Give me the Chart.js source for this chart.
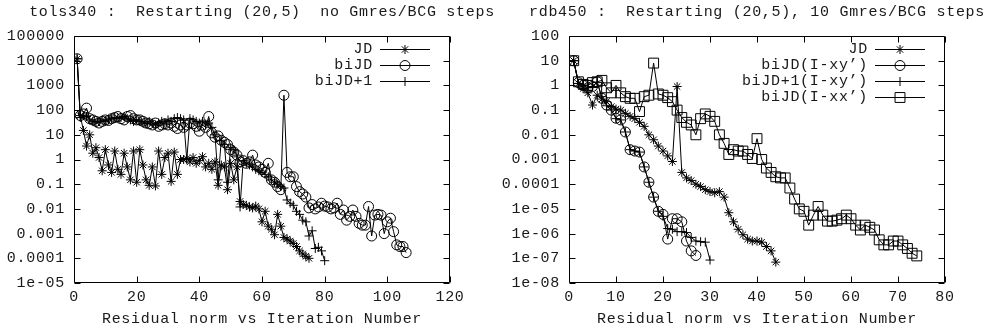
<!DOCTYPE html>
<html><head><meta charset="utf-8">
<script src="https://cdn.jsdelivr.net/npm/chart.js@4.4.0/dist/chart.umd.min.js"></script>
<style>
html,body{margin:0;padding:0;background:#fff;}
#wrap{position:relative;width:987px;height:331px;overflow:hidden;background:#fff;}
canvas{position:absolute;top:0;}
#c1{left:0;} #c2{left:493px;}
</style></head><body>
<div id="wrap"><canvas id="c1" width="493" height="331"></canvas><canvas id="c2" width="494" height="331"></canvas></div>
<script>
// ---------- Left chart data (tols340) ----------
const leftTitle = "tols340 :  Restarting (20,5)  no Gmres/BCG steps";
const xAxisTitle = "Residual norm vs Iteration Number";
const leftYTickValues = [1e-5, 1e-4, 1e-3, 1e-2, 1e-1, 1, 10, 100, 1000, 10000, 100000];
const leftYTickLabels = ["1e-05", "0.0001", "0.001", "0.01", "0.1", "1", "10", "100", "1000", "10000", "100000"];
const leftLabels = ["JD", "biJD", "biJD+1"];
// iterations start at 1
const leftJD = [1.2e4, 60, 15, 3.5, 10, 1.8, 3, 1.2, 0.35, 2.5,
  0.6, 0.3, 2.2, 0.4, 0.25, 1.8, 0.5, 0.15, 2.2, 0.12,
  2.5, 0.6, 0.15, 0.09, 0.5, 0.085, 2.2, 0.25, 1.2, 1.8,
  0.13, 2, 0.25, 1.0, 1.0, 1.1, 0.8, 1.2, 0.7, 0.9,
  1.3, 0.5, 0.7, 0.4, 0.8, 0.09, 0.6, 0.5, 0.06, 0.7,
  0.15, 0.5, 0.02, 0.015, 0.014, 0.012, 0.011, 0.013, 0.01, 0.003,
  0.008, 0.002, 0.0015, 0.0009, 0.006, 0.002, 0.0007, 0.0006, 0.0005, 0.0004,
  0.0003, 0.0002, 0.00015, 0.00012, 0.0001];
const leftBiJD = [1.2e4, 60, 70, 120, 45, 40, 35, 30, 35, 40,
  38, 45, 50, 55, 45, 40, 55, 60, 45, 40,
  40, 35, 30, 28, 25, 30, 22, 25, 28, 25,
  30, 22, 18, 25, 20, 25, 30, 28, 22, 14,
  25, 20, 55, 12, 8, 9, 6, 5, 4, 2.5,
  2, 1.5, 0.8, 0.9, 0.7, 0.8, 1.5, 0.6, 0.5, 0.4,
  0.3, 0.7, 0.15, 0.12, 0.08, 0.06, 400, 0.3, 0.2, 0.2,
  0.08, 0.05, 0.04, 0.03, 0.011, 0.015, 0.01, 0.012, 0.017, 0.013,
  0.012, 0.01, 0.011, 0.017, 0.006, 0.009, 0.0035, 0.005, 0.009, 0.005,
  0.0026, 0.0022, 0.0022, 0.0125, 0.0008, 0.0056, 0.006, 0.0056, 0.001, 0.003,
  0.0042, 0.0012, 0.00035, 0.0003, 0.0003, 0.00017];
const leftBiJD1 = [1.2e4, 50, 60, 55, 40, 35, 30, 35, 40, 35,
  40, 45, 50, 45, 50, 55, 45, 40, 35, 40,
  35, 30, 28, 35, 30, 25, 30, 35, 30, 40,
  35, 45, 50, 45, 40, 1.0, 45, 40, 35, 30,
  35, 25, 30, 20, 10, 0.15, 6, 4, 0.12, 3,
  2.5, 1.5, 0.012, 0.9, 0.7, 0.6, 0.5, 0.4, 0.35, 0.3,
  0.25, 0.2, 0.15, 0.12, 0.1, 0.08, 0.07, 0.023, 0.017, 0.014,
  0.008, 0.006, 0.0035, 0.003, 0.0008, 0.0013, 0.00025, 0.00028, 0.0002, 0.00008];

// ---------- Right chart data (rdb450) ----------
const rightTitle = "rdb450 :  Restarting (20,5), 10 Gmres/BCG steps";
const rightYTickValues = [1e-8, 1e-7, 1e-6, 1e-5, 1e-4, 1e-3, 1e-2, 1e-1, 1, 10, 100];
const rightYTickLabels = ["1e-08", "1e-07", "1e-06", "1e-05", "0.0001", "0.001", "0.01", "0.1", "1", "10", "100"];
const rightLabels = ["JD", "biJD(I-xy\u2019)", "biJD+1(I-xy\u2019)", "biJD(I-xx\u2019)"];
const rightJD = [10, 1.2, 0.75, 0.5, 0.16, 0.4, 0.28, 0.22, 0.14, 0.11,
  0.1, 0.074, 0.056, 0.045, 0.032, 0.022, 0.01, 0.0063, 0.0035, 0.0022,
  0.0014, 0.00083, 0.9, 0.0003, 0.00018, 0.00014, 0.0001, 8e-5, 6e-5, 5e-5,
  4.5e-5, 5e-5, 3e-5, 7e-6, 3e-6, 1.5e-6, 9e-7, 6e-7, 5e-7, 5e-7,
  4.5e-7, 3e-7, 2e-7, 7e-8];
const rightBiJDxy = [10, 1.3, 1.0, 0.8, 0.9, 1.4, 0.3, 0.16, 0.1, 0.047,
  0.04, 0.013, 0.0025, 0.0022, 0.002, 0.0005, 0.00012, 3e-5, 8e-6, 6e-6,
  6e-7, 4e-6, 4e-6, 3e-6, 5e-7, 2e-7, 1.3e-7];
const rightBiJD1xy = [10, 1.2, 1.0, 0.8, 0.9, 1.3, 0.35, 0.15, 0.1, 0.045,
  0.04, 0.013, 0.0025, 0.0022, 0.002, 0.0005, 0.00012, 3e-5, 8e-6, 5e-6,
  1.6e-6, 1.5e-6, 1.2e-6, 1.2e-6, 1.1e-6, 7e-7, 5e-7, 4.7e-7, 4.5e-7, 8.5e-8];
const rightBiJDxx = [10, 1.4, 1.1, 1.0, 1.3, 1.4, 1.6, 0.8, 0.5, 1.0,
  0.5, 0.35, 0.3, 0.3, 0.087, 0.35, 0.4, 8, 0.45, 0.4,
  0.32, 0.22, 0.1, 0.05, 0.032, 0.025, 0.01, 0.045, 0.07, 0.056,
  0.035, 0.01, 0.0045, 0.0016, 0.0025, 0.0022, 0.0022, 0.0016, 0.0011, 0.007,
  0.001, 0.00045, 0.0003, 0.0002, 0.00018, 0.00018, 7e-5, 2.5e-5, 1e-5, 8e-6,
  2.2e-6, 5.6e-6, 1.25e-5, 5.6e-6, 3.2e-6, 3.2e-6, 3.5e-6, 4e-6, 5.6e-6, 4e-6,
  2.2e-6, 1.4e-6, 2.2e-6, 1.8e-6, 1.4e-6, 5.6e-7, 3.5e-7, 3.5e-7, 5e-7, 5e-7,
  3.5e-7, 2.5e-7, 1.6e-7, 1.25e-7];

const FONT = "'Liberation Mono', 'DejaVu Sans Mono', monospace";
const FSIZE = 15;
const TXT = '#1a1a1a';

const gnuPlugin = {
  id: 'gnu',
  beforeDraw(chart) { chart.ctx.letterSpacing = '0.7px'; },
  beforeDatasetsDraw(chart) {
    const {ctx, chartArea: a, scales: {x, y}} = chart;
    const L = Math.round(a.left) + 0.5, R = Math.round(a.right) - 0.5;
    const T = Math.round(a.top) + 0.5, B = Math.round(a.bottom) - 0.5;
    ctx.save();
    ctx.strokeStyle = '#000'; ctx.lineWidth = 1;
    ctx.beginPath();
    ctx.moveTo(L, T); ctx.lineTo(R, T); ctx.lineTo(R, B); ctx.lineTo(L, B); ctx.closePath();
    const tl = 6;
    x.ticks.forEach(t => {
      const px = Math.round(x.getPixelForValue(t.value)) + 0.5;
      ctx.moveTo(px, B); ctx.lineTo(px, B - tl);
      ctx.moveTo(px, T); ctx.lineTo(px, T + tl);
    });
    y.ticks.forEach(t => {
      const py = Math.round(y.getPixelForValue(t.value)) + 0.5;
      ctx.moveTo(L, py); ctx.lineTo(L + tl, py);
      ctx.moveTo(R, py); ctx.lineTo(R - tl, py);
    });
    ctx.stroke();
    ctx.restore();
  },
  afterDraw(chart, args, opts) {
    const {ctx, chartArea: a} = chart;
    ctx.save();
    ctx.letterSpacing = '0.7px';
    ctx.font = FSIZE + 'px ' + FONT;
    ctx.fillStyle = TXT;
    ctx.textBaseline = 'middle';
    ctx.textAlign = 'center';
    const cx = (a.left + a.right) / 2;
    ctx.fillText(opts.title, cx, opts.titleY);
    ctx.fillText(opts.xTitle, cx, opts.xTitleY);
    // key (gnuplot style: text, then sample)
    chart.data.datasets.forEach((ds, i) => {
      const yy = a.top + 13 + 16 * i;
      ctx.textAlign = 'right';
      ctx.fillStyle = TXT;
      ctx.fillText(ds.label, a.right - 77, yy);
      ctx.strokeStyle = '#000'; ctx.lineWidth = 1;
      ctx.beginPath();
      ctx.moveTo(a.right - 70, Math.round(yy) + 0.5);
      ctx.lineTo(a.right - 20, Math.round(yy) + 0.5);
      ctx.stroke();
      ctx.fillStyle = 'rgba(0,0,0,0)';
      Chart.helpers.drawPoint(ctx, {pointStyle: ds.pointStyle, radius: ds.pointRadius, rotation: 0, borderWidth: 1}, a.right - 45, Math.round(yy) + 0.5);
    });
    ctx.restore();
  }
};

const STYLE = {
  JD: ['star', 4.5],
  circ: ['circle', 5],
  plus: ['cross', 4.5],
  sq: ['rect', 7]
};

function makeChart(id, cfg) {
  return new Chart(document.getElementById(id), {
    type: 'line',
    data: {
      datasets: cfg.series.map(s => ({
        label: s.label,
        data: s.values.map((v, i) => ({x: i + 1, y: v})),
        borderColor: '#000', borderWidth: 1, tension: 0, fill: false,
        pointStyle: STYLE[s.mark][0], pointRadius: STYLE[s.mark][1],
        pointBorderWidth: 1, pointBorderColor: '#000',
        pointBackgroundColor: 'rgba(0,0,0,0)', pointHoverRadius: STYLE[s.mark][1]
      }))
    },
    options: {
      responsive: false, animation: false, devicePixelRatio: 1,
      events: [],
      layout: {padding: {top: 36, right: cfg.padRight, bottom: 0, left: 0}},
      plugins: {
        legend: {display: false}, tooltip: {enabled: false},
        gnu: {title: cfg.title, titleY: 12, xTitle: xAxisTitle, xTitleY: 319}
      },
      scales: {
        x: {
          type: 'linear', min: 0, max: cfg.xMax,
          grid: {display: false, drawTicks: false, tickLength: 0}, border: {display: false},
          ticks: {stepSize: cfg.xStep, padding: 5, color: TXT, maxRotation: 0, autoSkip: false,
                  font: {family: FONT, size: FSIZE}},
          afterFit: s => { s.height = 48; }
        },
        y: {
          type: 'logarithmic', min: cfg.yTickValues[0], max: cfg.yTickValues[cfg.yTickValues.length - 1],
          grid: {display: false, drawTicks: false, tickLength: 0}, border: {display: false},
          afterBuildTicks: s => { s.ticks = cfg.yTickValues.map(v => ({value: v})); },
          ticks: {autoSkip: false, padding: 9, color: TXT,
                  font: {family: FONT, size: FSIZE},
                  callback: (v, i) => cfg.yTickLabels[i]},
          afterFit: s => { s.width = cfg.yWidth; }
        }
      }
    },
    plugins: [gnuPlugin]
  });
}

makeChart('c1', {
  title: leftTitle, xMax: 120, xStep: 20, padRight: 43, yWidth: 74,
  yTickValues: leftYTickValues, yTickLabels: leftYTickLabels,
  series: [
    {label: leftLabels[0], values: leftJD, mark: 'JD'},
    {label: leftLabels[1], values: leftBiJD, mark: 'circ'},
    {label: leftLabels[2], values: leftBiJD1, mark: 'plus'}
  ]
});
makeChart('c2', {
  title: rightTitle, xMax: 80, xStep: 10, padRight: 42, yWidth: 76,
  yTickValues: rightYTickValues, yTickLabels: rightYTickLabels,
  series: [
    {label: rightLabels[0], values: rightJD, mark: 'JD'},
    {label: rightLabels[1], values: rightBiJDxy, mark: 'circ'},
    {label: rightLabels[2], values: rightBiJD1xy, mark: 'plus'},
    {label: rightLabels[3], values: rightBiJDxx, mark: 'sq'}
  ]
});
</script>
</body></html>
